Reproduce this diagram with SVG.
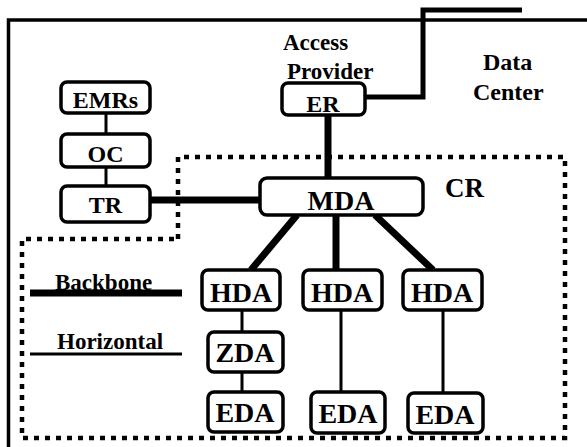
<svg xmlns="http://www.w3.org/2000/svg" width="587" height="447" viewBox="0 0 587 447" font-family="'Liberation Serif', 'Times New Roman', 'DejaVu Serif', serif">
<style>
.box{fill:#fff;stroke:#000;stroke-width:3.5}
.t{font-family:'Liberation Serif','Times New Roman','DejaVu Serif',serif;font-weight:bold;fill:#000}
.l{font-size:24px;text-anchor:middle}
.b{font-size:28px;text-anchor:middle}
.thick{stroke:#000;stroke-width:7;fill:none}
.thin{stroke:#000;stroke-width:3;fill:none}
.dot{stroke:#000;stroke-width:4.5;fill:none;stroke-dasharray:5 6}
</style>
<rect width="587" height="447" fill="#fff"/>
<g id="frame">
<path d="M8.5,447 V20 H587" stroke="#000" stroke-width="3.5" fill="none"/>
<path class="dot" d="M178,239 V157 H565 V438 H22 V239 H178"/>
<text class="t" x="283" y="50" font-size="23">Access</text>
<text class="t" x="287" y="79" font-size="23">Provider</text>
<text class="t" x="483" y="70" font-size="24">Data</text>
<text class="t" x="473" y="100" font-size="24">Center</text>
<text class="t" x="445" y="197" font-size="27">CR</text>
</g>
<g id="legend">
<line class="thick" x1="30" y1="293" x2="182" y2="293"/>
<text class="t" x="55" y="290" font-size="23">Backbone</text>
<line class="thin" x1="30" y1="354" x2="182" y2="354"/>
<text class="t" x="57" y="349" font-size="23">Horizontal</text>
</g>
<g id="connectors">
<path d="M365,97 H423 V10 H522" stroke="#000" stroke-width="5" fill="none"/>
<line class="thin" x1="106" y1="113" x2="106" y2="134"/>
<line class="thin" x1="106" y1="167" x2="106" y2="186"/>
<line class="thick" x1="150" y1="200" x2="260" y2="200"/>
<line class="thick" x1="328" y1="115" x2="328" y2="178"/>
<line class="thick" x1="297" y1="215" x2="251" y2="270"/>
<line class="thick" x1="336" y1="215" x2="336" y2="270"/>
<line class="thick" x1="375" y1="215" x2="433" y2="270"/>
<line class="thin" x1="242" y1="310" x2="242" y2="332"/>
<line class="thin" x1="242" y1="372" x2="242" y2="392"/>
<line class="thin" x1="341" y1="310" x2="341" y2="392"/>
<line class="thin" x1="443" y1="310" x2="443" y2="393"/>
</g>
<g id="EMRs"><rect class="box" x="61" y="82" width="89" height="31" rx="6"/><text class="t l" x="105.5" y="108">EMRs</text></g>
<g id="OC"><rect class="box" x="61" y="134" width="89" height="33" rx="6"/><text class="t l" x="105.5" y="162">OC</text></g>
<g id="TR"><rect class="box" x="61" y="186" width="89" height="36" rx="6"/><text class="t l" x="105.5" y="213">TR</text></g>
<g id="ER"><rect class="box" x="282" y="83" width="83" height="32" rx="6"/><text class="t l" x="323" y="112">ER</text></g>
<g id="MDA"><rect class="box" x="260" y="178" width="163" height="37" rx="7"/><text class="t b" x="341" y="210">MDA</text></g>
<g id="HDA1"><rect class="box" x="202" y="270" width="78" height="40" rx="6"/><text class="t b" x="241" y="302">HDA</text></g>
<g id="HDA2"><rect class="box" x="303" y="270" width="79" height="40" rx="6"/><text class="t b" x="342" y="302">HDA</text></g>
<g id="HDA3"><rect class="box" x="403" y="270" width="79" height="40" rx="6"/><text class="t b" x="442" y="302">HDA</text></g>
<g id="ZDA"><rect class="box" x="208" y="332" width="75" height="40" rx="6"/><text class="t b" x="245" y="362">ZDA</text></g>
<g id="EDA1"><rect class="box" x="208" y="392" width="75" height="40" rx="6"/><text class="t b" x="245" y="422">EDA</text></g>
<g id="EDA2"><rect class="box" x="311" y="392" width="74" height="41" rx="6"/><text class="t b" x="348" y="423">EDA</text></g>
<g id="EDA3"><rect class="box" x="408" y="393" width="75" height="40" rx="6"/><text class="t b" x="445" y="424">EDA</text></g>
</svg>
